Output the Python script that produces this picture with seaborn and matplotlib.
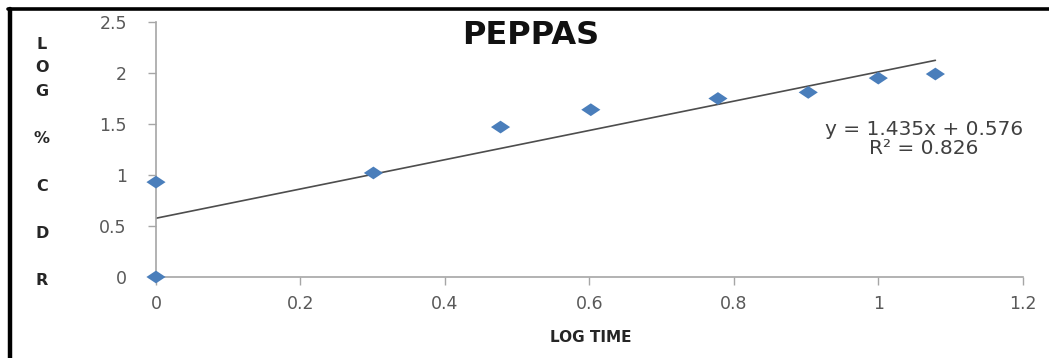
import matplotlib
matplotlib.use('Agg')
import matplotlib.pyplot as plt
import seaborn as sns
import numpy as np
import pandas as pd
from matplotlib.lines import Line2D

# data
log_time = [0.0, 0.0, 0.301, 0.477, 0.602, 0.778, 0.903, 1.0, 1.079]
log_cdr = [0.0, 0.93, 1.02, 1.47, 1.64, 1.75, 1.81, 1.95, 1.99]
slope = 1.435
intercept = 0.576
r_squared = 0.826
x_ticks = [0, 0.2, 0.4, 0.6, 0.8, 1, 1.2]
y_ticks = [0, 0.5, 1, 1.5, 2, 2.5]

sns.set_theme(style='white')
plt.rcParams['font.family'] = ['DejaVu Sans']

df = pd.DataFrame({'log_time': log_time, 'log_cdr': log_cdr})
trend_x = np.array([0.0, max(log_time)])
trend = pd.DataFrame({'x': trend_x, 'y': slope * trend_x + intercept})

fig = plt.figure(figsize=(10.49, 3.58), dpi=100)
ax = fig.add_axes([0.1487, 0.2263, 0.975 - 0.1487, 0.9385 - 0.2263])

sns.lineplot(data=trend, x='x', y='y', ax=ax, color='#4d4d4d', linewidth=1.2)

# wide diamond, like the stretched excel marker
diamond = [(-1.5, 0), (0, 1), (1.5, 0), (0, -1), (-1.5, 0)]
sns.scatterplot(data=df, x='log_time', y='log_cdr', ax=ax, marker=diamond,
                s=190, color='#4a7ebb', edgecolor='none', zorder=3,
                clip_on=False)

ax.set_xlim(0, 1.2)
ax.set_ylim(0, 2.5)
ax.set_xticks(x_ticks)
ax.set_xticklabels([f'{t:g}' for t in x_ticks])
ax.set_yticks(y_ticks)
ax.set_yticklabels([f'{t:g}' for t in y_ticks])
ax.tick_params(axis='both', length=6, width=1, color='#a6a6a6',
               labelcolor='#595959', labelsize=12.5)
ax.tick_params(axis='x', direction='out', pad=7, bottom=True)
ax.tick_params(axis='y', direction='out', pad=15, left=True)
for side in ['top', 'right']:
    ax.spines[side].set_visible(False)
for side in ['left', 'bottom']:
    ax.spines[side].set_color('#a6a6a6')
    ax.spines[side].set_linewidth(1.2)
ax.grid(False)

ax.set_xlabel('')
ax.set_ylabel('')
fig.text(0.563, 0.056, 'LOG TIME', ha='center', va='center',
         fontsize=11, fontweight='bold', color='#262626')
fig.text(0.040, 0.546, 'L\nO\nG\n\n%\n\nC\n\nD\n\nR', ha='center',
         va='center', fontsize=11.5, fontweight='bold', color='#262626',
         linespacing=1.72)

fig.text(0.506, 0.902, 'PEPPAS', ha='center', va='center', fontsize=23,
         fontweight='bold', color='#111111')
fig.text(0.881, 0.612, f'y = {slope}x + {intercept}\nR² = {r_squared}',
         ha='center', va='center', fontsize=14.5, color='#404040',
         linespacing=1.0)

# black frame of the cropped figure
fig.add_artist(Line2D([0.0095, 0.0095], [0.0, 0.975], transform=fig.transFigure,
                      color='black', linewidth=3.2))
fig.add_artist(Line2D([0.008, 1.0], [0.975, 0.975], transform=fig.transFigure,
                      color='black', linewidth=2.6))

fig.savefig('out.png', dpi=100, facecolor='white')
